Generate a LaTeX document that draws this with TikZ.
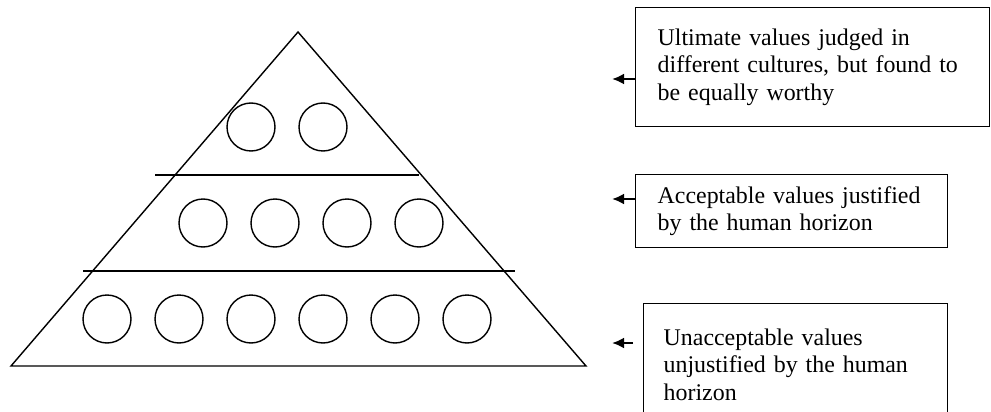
\documentclass[tikz,border=0pt]{standalone}
\usepackage{fontspec}
\setmainfont{Liberation Serif}
\usetikzlibrary{arrows,arrows.meta,positioning}

\begin{document}
\begin{tikzpicture}[x=0.02cm,y=-0.02cm,line width=0.8pt]%
\useasboundingbox (0,0) rectangle (991,412);%
% pyramid and its two levels
\draw (11,366)--(298,32)--(586,366)--cycle;%
\draw (155,175)--(419,175); %%
\draw (83,271)--(515,271); %%
\begin{scope}[shape=circle,minimum size=0.96cm,inner sep=0pt]%
\tikzstyle{every node}=[draw] %%
\node (t1) at (251,127)  {}; %%
\node (t2) at (323,127)  {}; %%
\node (m1) at (203,223)  {}; %%
\node (m2) at (275,223)  {}; %%
\node (m3) at (347,223)  {}; %%
\node (m4) at (419,223)  {}; %%
\node (b1) at (107,319)  {}; %%
\node (b2) at (179,319)  {}; %%
\node (b3) at (251,319)  {}; %%
\node (b4) at (323,319)  {}; %%
\node (b5) at (395,319)  {}; %%
\node (b6) at (467,319)  {}; %%
\end{scope}
% the three labels
\begin{scope}[font=\fontsize{13.6}{15.5}\selectfont,align=left,inner ysep=0pt]%
\tikzstyle{every node}=[draw,anchor=north west] %%
\node[text width=6.2cm,inner xsep=0.44cm,minimum height=2.38cm] (box1) at (635,7)  {Ultimate values judged in\\different cultures, but found to\\be equally worthy}; %%
\node[text width=5.36cm,inner xsep=0.44cm,minimum height=1.46cm] (box2) at (635,174)  {Acceptable values justified\\by the human horizon}; %%
\node[text width=5.28cm,inner xsep=0.4cm,minimum height=2.44cm] (box3) at (643,303)  {Unacceptable values\\unjustified by the human\\horizon}; %%
\end{scope}
\coordinate (p1) at (612,79);%
\coordinate (p2) at (612,199);%
\coordinate (p3) at (612,343);%
\tikzstyle{pointer}=[-{Latex[length=0.24cm,width=0.22cm]},line width=1.5pt]
\draw[pointer] (box1.west |- p1)--(p1);
\draw[pointer] (box2.west |- p2)--(p2);
\draw[pointer] ([xshift=-0.2cm]box3.west |- p3)--(p3);

\end{tikzpicture}
\end{document}
